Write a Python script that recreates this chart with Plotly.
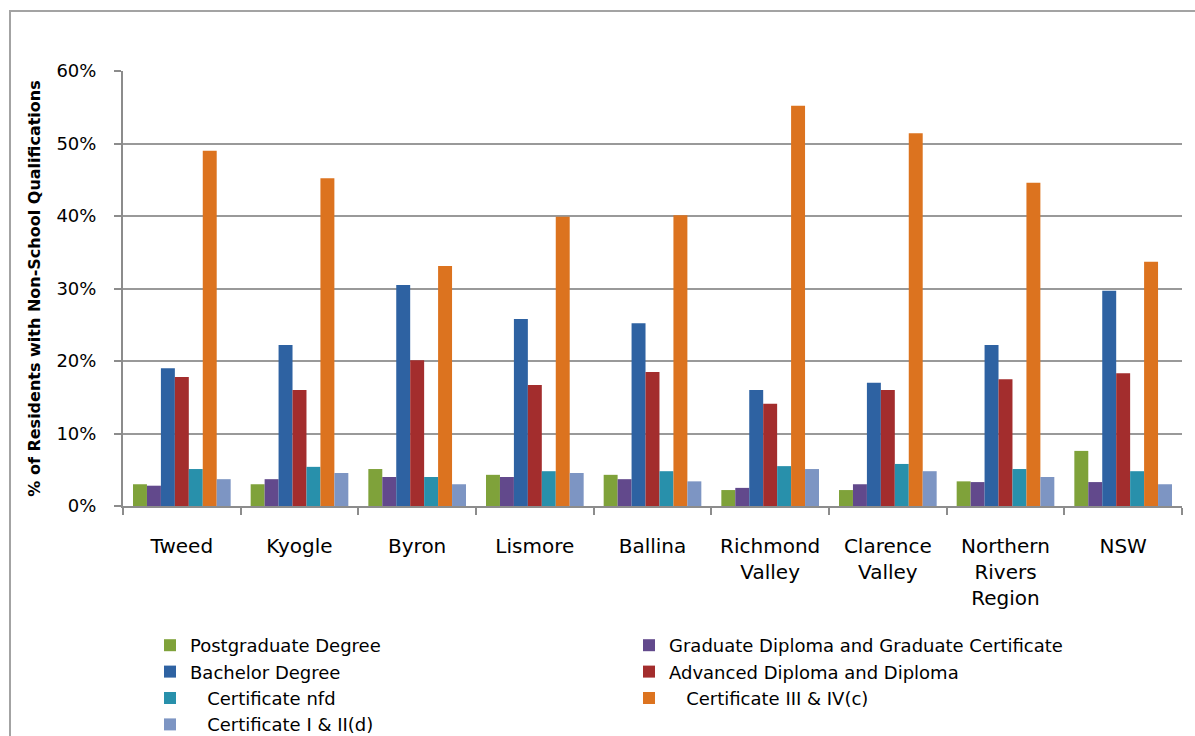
import plotly.graph_objects as go

# Regions (x-axis categories)
regions = ["Tweed", "Kyogle", "Byron", "Lismore", "Ballina",
           "Richmond<br>Valley", "Clarence<br>Valley", "Northern<br>Rivers<br>Region", "NSW"]

# Share of residents with non-school qualifications (%), by qualification level
postgraduate = [3.0, 3.0, 5.1, 4.3, 4.3, 2.2, 2.2, 3.4, 7.6]
grad_diploma = [2.8, 3.7, 4.0, 4.0, 3.7, 2.5, 3.0, 3.3, 3.3]
bachelor = [19.0, 22.2, 30.5, 25.8, 25.2, 16.0, 17.0, 22.2, 29.7]
adv_diploma = [17.8, 16.0, 20.1, 16.7, 18.5, 14.1, 16.0, 17.5, 18.3]
cert_nfd = [5.1, 5.4, 4.0, 4.8, 4.8, 5.5, 5.8, 5.1, 4.8]
cert_3_4 = [49.0, 45.2, 33.1, 39.9, 40.1, 55.2, 51.4, 44.6, 33.7]
cert_1_2 = [3.7, 4.55, 3.0, 4.55, 3.4, 5.1, 4.8, 4.0, 3.0]

# Y-axis ticks
y_tick_values = [0, 10, 20, 30, 40, 50, 60]
y_tick_labels = ["0%", "10%", "20%", "30%", "40%", "50%", "60%"]

NB = "\u00a0"
series = [
    ("Postgraduate Degree", postgraduate, "#7fa23a"),
    ("Graduate Diploma and Graduate Certificate", grad_diploma, "#62498c"),
    ("Bachelor Degree", bachelor, "#2e62a2"),
    ("Advanced Diploma and Diploma", adv_diploma, "#a32d2d"),
    (NB * 3 + "Certificate nfd", cert_nfd, "#2890ab"),
    (NB * 3 + "Certificate III & IV(c)", cert_3_4, "#dc731f"),
    (NB * 3 + "Certificate I & II(d)", cert_1_2, "#7d95c3"),
]

FONT = "DejaVu Sans"

fig = go.Figure()
for name, vals, color in series:
    fig.add_trace(go.Bar(
        x=regions, y=vals, name=name,
        marker=dict(color=color, line=dict(width=0)),
    ))

W, H = 1195, 736
L, R, T, B = 123, 13, 71, 230
pw, ph = W - L - R, H - T - B

def px_x(x):
    return (x - L) / pw

def px_y(y):
    return (H - B - y) / ph

fig.update_layout(
    width=W, height=H,
    margin=dict(l=L, r=R, t=T, b=B, autoexpand=False),
    paper_bgcolor="white", plot_bgcolor="white",
    barmode="group", bargap=0.17, bargroupgap=0,
    font=dict(family=FONT, size=18, color="#000000"),
    showlegend=True,
    legend=dict(
        orientation="h", xref="container", yref="container",
        x=150 / W, y=1 - 627 / H, xanchor="left", yanchor="top",
        entrywidth=434, entrywidthmode="pixels",
        font=dict(family=FONT, size=18, color="#000000"),
        itemwidth=30, tracegroupgap=0, traceorder="normal",
        bgcolor="rgba(0,0,0,0)",
    ),
    xaxis=dict(
        showgrid=False, showline=True, linecolor="#8c8c8c", linewidth=2,
        ticks="outside", ticklen=7, tickcolor="#8c8c8c", tickwidth=2,
        tickson="boundaries", tickfont=dict(family=FONT, size=20),
        ticklabelstandoff=21,
    ),
    yaxis=dict(
        range=[0, 60], tickvals=y_tick_values, ticktext=y_tick_labels,
        showgrid=True, gridcolor="#999999", gridwidth=2,
        showline=True, linecolor="#8c8c8c", linewidth=2,
        ticks="outside", ticklen=7, tickcolor="#8c8c8c", tickwidth=2,
        tickfont=dict(family=FONT, size=18), ticklabelstandoff=14,
        zeroline=False,
        title=dict(text="<b>% of Residents with Non-School Qualifications</b>",
                   font=dict(family=FONT, size=16), standoff=12),
    ),
    shapes=[dict(
        type="rect", xref="paper", yref="paper",
        x0=px_x(10), x1=px_x(1210), y0=px_y(760), y1=px_y(11),
        line=dict(color="#a3a3a3", width=2), fillcolor="rgba(0,0,0,0)",
        layer="below",
    )],
)

fig.write_html("out.html")
